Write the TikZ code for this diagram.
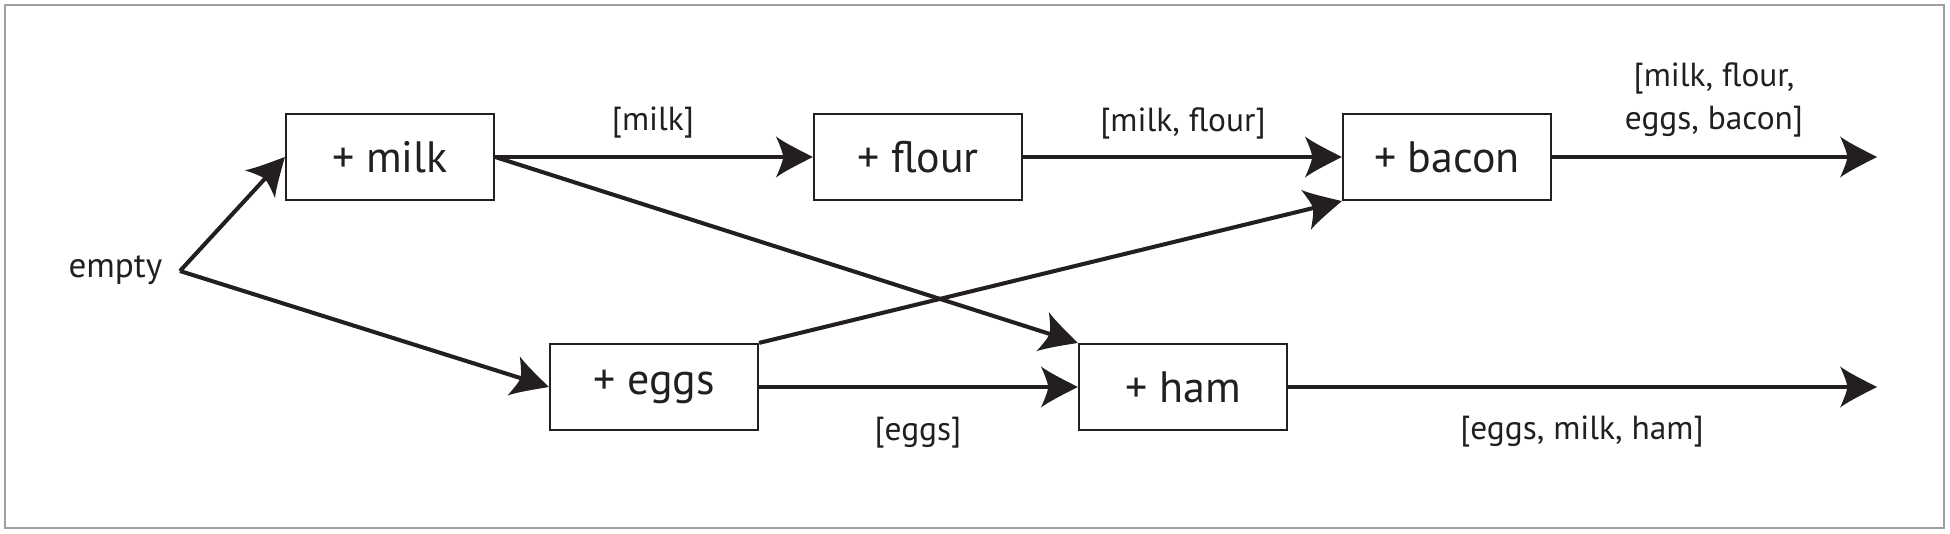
\documentclass[tikz,border=0pt]{standalone}
\usepackage{fontspec}
\setmainfont{PT Sans}
\usetikzlibrary{arrows.meta}
\definecolor{ink}{RGB}{35,31,32}
\pgfdeclarearrow{
  name = Flare,
  parameters = {\the\pgfarrowlength,\the\pgfarrowwidth},
  setup code = {
    \pgfarrowssettipend{0pt}
    \pgfarrowssetlineend{-0.7\pgfarrowlength}
    \pgfarrowssetbackend{-\pgfarrowlength}
    \pgfarrowshullpoint{0pt}{0pt}
    \pgfarrowsupperhullpoint{-\pgfarrowlength}{0.5\pgfarrowwidth}
    \pgfarrowssavethe\pgfarrowlength
    \pgfarrowssavethe\pgfarrowwidth
  },
  drawing code = {
    \pgfpathmoveto{\pgfpoint{0pt}{0pt}}
    \pgfpathcurveto{\pgfpoint{-0.35\pgfarrowlength}{0.16\pgfarrowwidth}}{\pgfpoint{-0.8\pgfarrowlength}{0.36\pgfarrowwidth}}{\pgfpoint{-\pgfarrowlength}{0.5\pgfarrowwidth}}
    \pgfpathcurveto{\pgfpoint{-0.9\pgfarrowlength}{0.3\pgfarrowwidth}}{\pgfpoint{-0.82\pgfarrowlength}{0.12\pgfarrowwidth}}{\pgfpoint{-0.8\pgfarrowlength}{0pt}}
    \pgfpathcurveto{\pgfpoint{-0.82\pgfarrowlength}{-0.12\pgfarrowwidth}}{\pgfpoint{-0.9\pgfarrowlength}{-0.3\pgfarrowwidth}}{\pgfpoint{-\pgfarrowlength}{-0.5\pgfarrowwidth}}
    \pgfpathcurveto{\pgfpoint{-0.8\pgfarrowlength}{-0.36\pgfarrowwidth}}{\pgfpoint{-0.35\pgfarrowlength}{-0.16\pgfarrowwidth}}{\pgfpoint{0pt}{0pt}}
    \pgfpathclose
    \pgfusepathqfill
  },
  defaults = {length=10.5pt, width=11.5pt}
}
\begin{document}
\begin{tikzpicture}[x=0.01cm,y=-0.01cm,
  stage/.style={draw=ink,line width=0.6pt,minimum width=2.08cm,minimum height=0.86cm,inner sep=0pt,font=\fontsize{12.5}{15}\selectfont,text=ink},
  lbl/.style={inner sep=0pt,font=\fontsize{9.5}{12.2}\selectfont,text=ink,align=center},
  flow/.style={draw=ink,line width=1.15pt,-{Flare[length=10.5pt,width=11.7pt]}}]
\useasboundingbox (0,0) rectangle (1950,534);
\draw[gray!75,line width=0.6pt] (5,5) rectangle (1944,528);
\node[lbl,anchor=east,font=\fontsize{10}{12}\selectfont] (empty) at (163,270) {empty};
\coordinate (src) at (180,271);
\node[stage] (milk) at (390,157) {+ milk};
\node[stage] (flour) at (918,157) {+ flour};
\node[stage] (bacon) at (1447,157) {+ bacon};
\node[stage] (eggs) at (654,387) {+ eggs};
\node[stage] (ham) at (1183,387) {+ ham};
\coordinate (out1) at (1877,157);
\coordinate (out2) at (1877,387);
\draw[flow] (src) -- (milk.west);
\draw[flow] (src) -- (eggs.west);
\draw[flow] (milk.east) -- (flour.west);
\draw[flow] (flour.east) -- (bacon.west);
\draw[flow] (milk.east) -- (ham.north west);
\draw[flow] (eggs.north east) -- (bacon.south west);
\draw[flow] (eggs.east) -- (ham.west);
\draw[flow] (bacon.east) -- (out1);
\draw[flow] (ham.east) -- (out2);
\node[lbl] (l1) at (653,123) {[milk]};
\node[lbl] (l2) at (1183,123) {[milk, flour]};
\node[lbl] (l3) at (918,433) {[eggs]};
\node[lbl] (l4) at (1582,432) {[eggs, milk, ham]};
\node[lbl] (l5) at (1714,100) {[milk, flour,\\eggs, bacon]};
\end{tikzpicture}
\end{document}
